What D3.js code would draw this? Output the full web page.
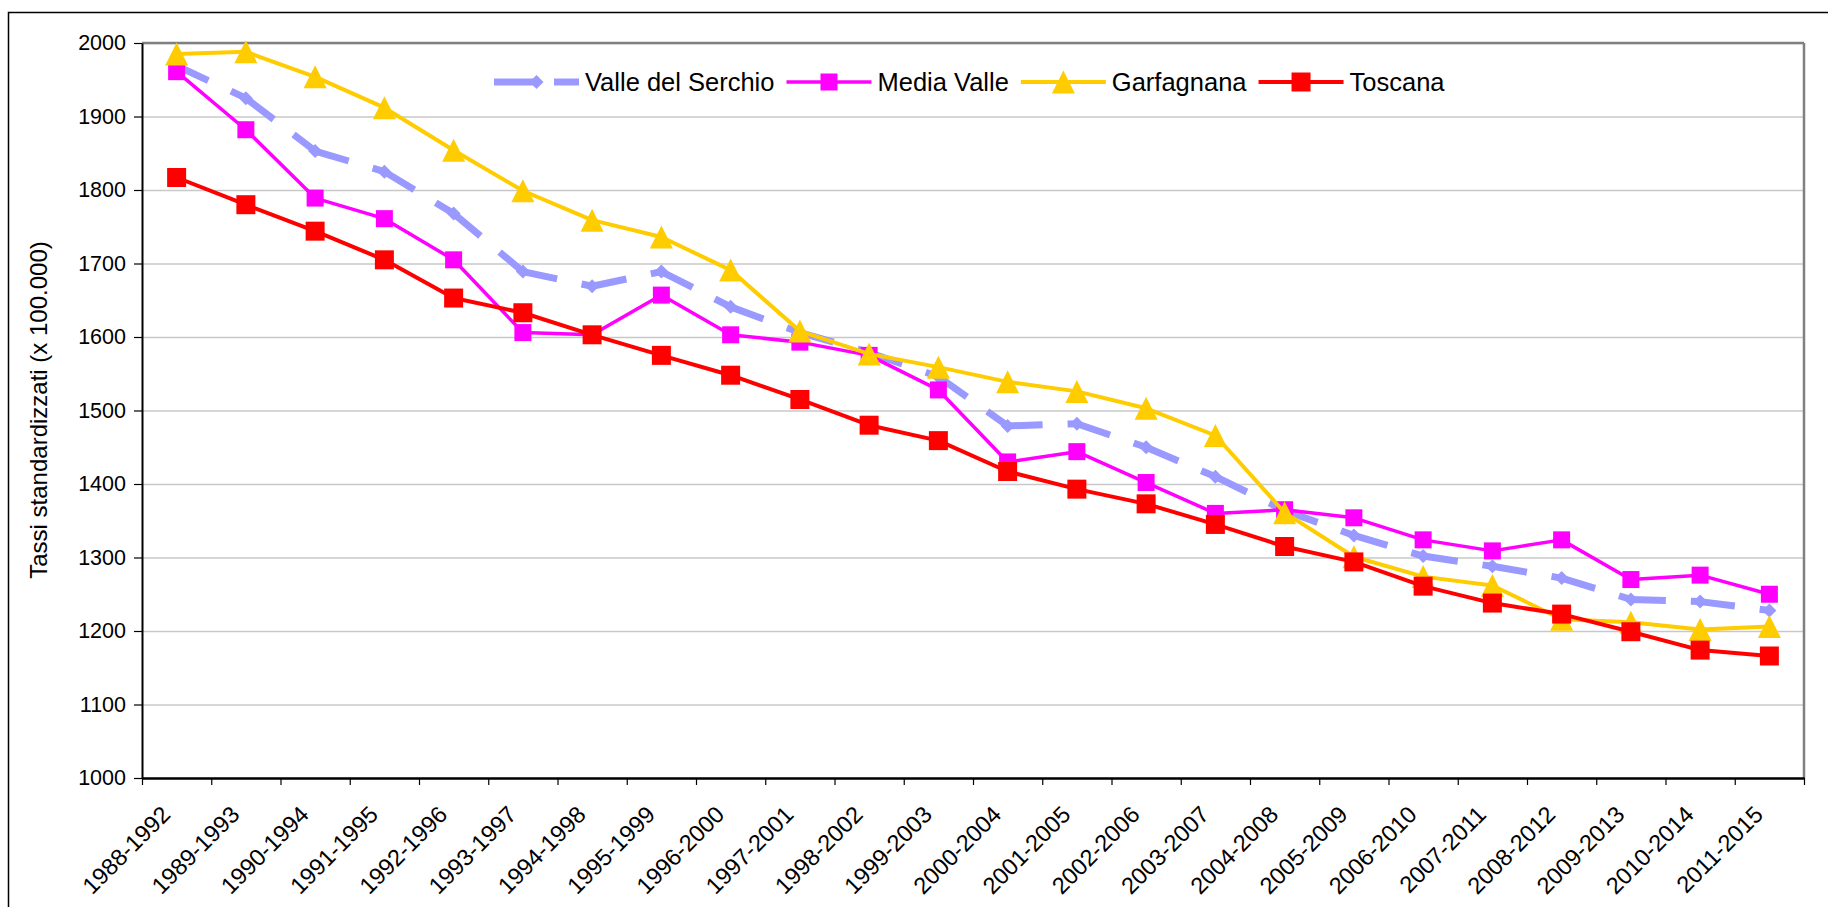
<!DOCTYPE html>
<html>
<head>
<meta charset="utf-8">
<script src="https://cdnjs.cloudflare.com/ajax/libs/d3/7.8.5/d3.min.js"></script>
<style>
  body { margin: 0; background: #fff; }
  svg { display: block; font-family: "Liberation Sans", Arial, sans-serif; }
</style>
</head>
<body>
<div id="chart"></div>
<script>
var svgWidth = 1828;
var svgHeight = 907;
var margin = ({top: 43, right: 24, bottom: 129, left: 142});

var periods = ["1988-1992","1989-1993","1990-1994","1991-1995","1992-1996","1993-1997","1994-1998","1995-1999",
  "1996-2000","1997-2001","1998-2002","1999-2003","2000-2004","2001-2005","2002-2006","2003-2007","2004-2008",
  "2005-2009","2006-2010","2007-2011","2008-2012","2009-2013","2010-2014","2011-2015"];
var valleSerchio = [1969,1925,1853,1825,1768,1689,1669,1689,1641,1606,1579,1546,1479,1482,1450,1410,1364,1330,1302,1288,1272,1243,1240,1228];
var mediaValle   = [1961,1882,1789,1761,1705,1606,1603,1657,1603,1593,1575,1528,1430,1444,1402,1360,1365,1354,1324,1309,1324,1270,1276,1250];
var garfagnana   = [1985,1988,1954,1912,1854,1799,1759,1736,1691,1608,1577,1559,1539,1526,1503,1466,1361,1301,1274,1262,1216,1212,1202,1206];
var toscana      = [1817,1780,1744,1705,1653,1633,1603,1575,1548,1515,1480,1459,1417,1393,1373,1345,1315,1294,1261,1238,1223,1199,1174,1166];
var seriesNames  = ["Valle del Serchio","Media Valle","Garfagnana","Toscana"];
var yTicks = [1000,1100,1200,1300,1400,1500,1600,1700,1800,1900,2000];

var series = [
  {name: seriesNames[0], values: valleSerchio, color: "#9999ff", width: 7, dash: "35,25", marker: "diamond", msize: 14},
  {name: seriesNames[1], values: mediaValle, color: "#ff00ff", width: 3.5, dash: null, marker: "square", msize: 17},
  {name: seriesNames[2], values: garfagnana, color: "#ffcc00", width: 4, dash: null, marker: "triangle", msize: 23},
  {name: seriesNames[3], values: toscana, color: "#ff0000", width: 4, dash: null, marker: "square", msize: 19}
];

var w = svgWidth - margin.left - margin.right;
var h = 778 - margin.top;

var x = d3.scaleBand().domain(periods).range([0, w]).paddingInner(0).paddingOuter(0);
var xEdge = d3.scaleLinear().domain([0, periods.length]).range([0, w]);
var y = d3.scaleLinear().domain([1000, 2000]).range([h, 0]);
var cx = d => x(d) + x.bandwidth() / 2;

function markerPath(type, s) {
  var r = s / 2;
  if (type == "square") return "M" + (-r) + "," + (-r) + "h" + s + "v" + s + "h" + (-s) + "Z";
  if (type == "triangle") return "M0," + (-r) + "L" + r + "," + r + "L" + (-r) + "," + r + "Z";
  return "M0," + (-r) + "L" + r + ",0L0," + r + "L" + (-r) + ",0Z";
}

var svg = d3.select("#chart").append("svg")
  .attr("width", svgWidth)
  .attr("height", svgHeight);

// outer chart frame (cut off by the picture on the right and bottom)
svg.append("rect")
  .attr("x", 8.5).attr("y", 12.5)
  .attr("width", svgWidth).attr("height", svgHeight + 50)
  .attr("fill", "none").attr("stroke", "#000").attr("stroke-width", 1.5);

var g = svg.append("g").attr("transform", "translate(" + margin.left + "," + margin.top + ")");

// gridlines
var grid = g.append("g").attr("class", "grid")
  .call(d3.axisLeft(y).tickValues(yTicks).tickSize(-w).tickFormat(""));
grid.select(".domain").remove();
grid.selectAll("line").attr("stroke", "#c8c8c8").attr("stroke-width", 1.5);

// top and right borders of the plot area
g.append("line").attr("x1", 0).attr("x2", w).attr("y1", 0).attr("y2", 0)
  .attr("stroke", "#808080").attr("stroke-width", 2.5);
g.append("line").attr("x1", w).attr("x2", w).attr("y1", 0).attr("y2", h)
  .attr("stroke", "#808080").attr("stroke-width", 2.5);

// y axis
var yAxis = g.append("g").attr("class", "axis")
  .call(d3.axisLeft(y).tickValues(yTicks).tickFormat(d3.format("d")).tickSize(8).tickPadding(8).tickSizeOuter(0));
yAxis.select(".domain").attr("stroke", "#000").attr("stroke-width", 2);
yAxis.selectAll("line").attr("stroke", "#000").attr("stroke-width", 1.2);
yAxis.selectAll("text").attr("font-size", 21.5).attr("fill", "#000")
  .attr("font-family", "'Liberation Sans', Arial, sans-serif");

// x axis: ticks at category edges
var xAxis = g.append("g").attr("class", "axis")
  .attr("transform", "translate(0," + h + ")")
  .call(d3.axisBottom(xEdge).tickValues(d3.range(periods.length + 1)).tickSize(7).tickFormat("").tickSizeOuter(0));
xAxis.select(".domain").attr("stroke", "#000").attr("stroke-width", 2.5);
xAxis.selectAll("line").attr("stroke", "#000").attr("stroke-width", 1.2);

g.append("g").selectAll("text")
  .data(periods).enter().append("text")
  .attr("transform", d => "translate(" + (cx(d) - 5) + "," + (h + 38) + ") rotate(-45)")
  .attr("text-anchor", "end")
  .attr("font-size", 23.5)
  .attr("fill", "#000")
  .text(d => d);

// y title
svg.append("text")
  .attr("transform", "translate(39,410) rotate(-90)")
  .attr("text-anchor", "middle")
  .attr("dy", "0.35em")
  .attr("font-size", 24)
  .attr("fill", "#000")
  .text("Tassi standardizzati (x 100.000)");

// series
var sg = g.selectAll(".serie").data(series).enter().append("g").attr("class", "serie");
sg.each(function (s) {
  var el = d3.select(this);
  var pts = periods.map((p, i) => [cx(p), y(s.values[i])]);
  if (s.dash) {
    el.selectAll(".seg").data(d3.pairs(pts)).enter().append("line")
      .attr("x1", d => d[0][0]).attr("y1", d => d[0][1])
      .attr("x2", d => d[1][0]).attr("y2", d => d[1][1])
      .attr("stroke", s.color).attr("stroke-width", s.width)
      .attr("stroke-dasharray", s.dash);
  } else {
    el.append("path")
      .attr("d", d3.line()(pts))
      .attr("fill", "none").attr("stroke", s.color)
      .attr("stroke-width", s.width).attr("stroke-linejoin", "round");
  }
  el.selectAll(".mk").data(pts).enter().append("path")
    .attr("transform", d => "translate(" + d[0] + "," + d[1] + ")")
    .attr("d", markerPath(s.marker, s.msize))
    .attr("fill", s.color);
});

// legend
var legend = svg.append("g").attr("transform", "translate(494,82)");
var lx = 0;
series.forEach(function (s) {
  var it = legend.append("g").attr("transform", "translate(" + lx + ",0)");
  it.append("line").attr("x1", 0).attr("x2", 85).attr("y1", 0).attr("y2", 0)
    .attr("stroke", s.color).attr("stroke-width", s.width)
    .attr("stroke-dasharray", s.dash ? "40,20" : null);
  it.append("path").attr("transform", "translate(42.5,0)")
    .attr("d", markerPath(s.marker, s.msize)).attr("fill", s.color);
  var t = it.append("text").attr("x", 91).attr("dy", "0.36em")
    .attr("font-size", 25.5).attr("fill", "#000").text(s.name);
  lx += 91 + t.node().getComputedTextLength() + 12;
});
</script>
</body>
</html>
